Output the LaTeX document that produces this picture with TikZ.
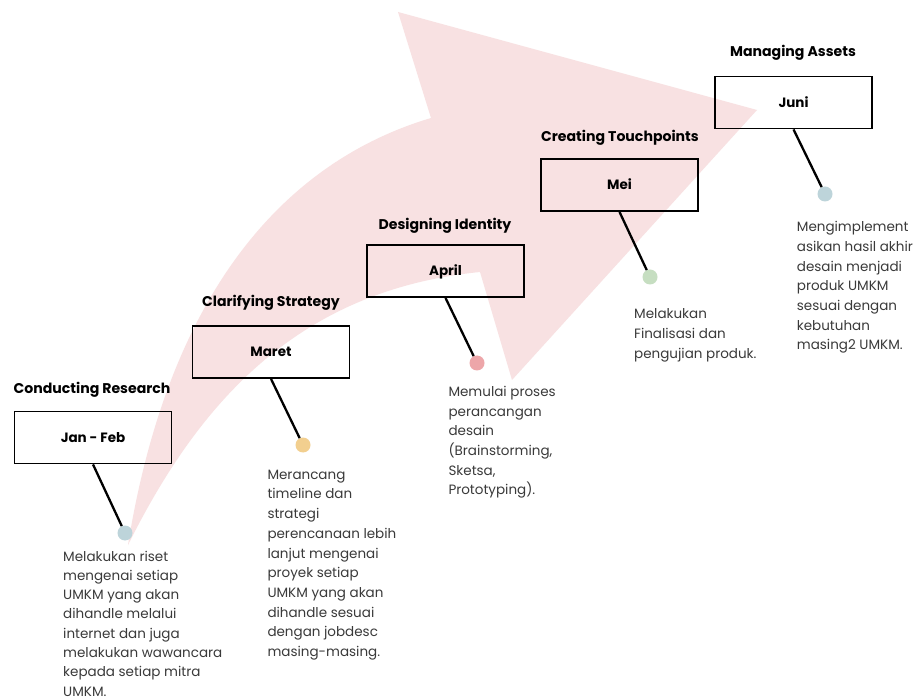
\documentclass[tikz,border=0pt]{standalone}
\usepackage{fontspec}
\setmainfont{Poppins}
\definecolor{arrowpink}{HTML}{F8E1E2}
\definecolor{bodygray}{HTML}{3A3A3A}
\definecolor{dotblue}{HTML}{BDD4DA}
\definecolor{dotorange}{HTML}{F2CF8F}
\definecolor{dotpink}{HTML}{EDA6A9}
\definecolor{dotgreen}{HTML}{C6DEC1}
\newcommand{\bodypar}[2][19.7]{\parbox[t]{200pt}{\fontsize{13.5}{#1}\selectfont\raggedright #2}}
\begin{document}
\begin{tikzpicture}[x=1pt,y=-1pt,
  stepbox/.style={draw=black, line width=1.8pt, minimum width=157pt, minimum height=52pt,
    inner sep=0pt, text height=9.6pt, text depth=0pt, font=\fontsize{13.5}{16}\selectfont\bfseries},
  titletext/.style={anchor=base, inner sep=0pt, font=\fontsize{14.1}{17}\selectfont\bfseries},
  dotnode/.style={circle, minimum size=15pt, inner sep=0pt},
  bodytext/.style={anchor=base west, inner sep=0pt, text=bodygray},
  link/.style={line width=2.3pt, black}]
\useasboundingbox (0,0) rectangle (913,700);
\fill[white] (0,0) rectangle (913,700);
% big curved arrow
\fill[arrowpink] (128,545) .. controls (200,400) and (300,290) .. (480,272)
  -- (512,380) -- (757,110) -- (398,12) -- (431,118)
  .. controls (290,160) and (170,285) .. cycle;
% boxes
\node[stepbox] (b1) at (93,437.5) {Jan - Feb};
\node[stepbox] (b2) at (271,352) {Maret};
\node[stepbox] (b3) at (445.5,271) {April};
\node[stepbox] (b4) at (619.5,185) {Mei};
\node[stepbox] (b5) at (793.5,102.5) {Juni};
% titles
\node[titletext] (t1) at (92,394) {Conducting Research};
\node[titletext] (t2) at (271,307) {Clarifying Strategy};
\node[titletext] (t3) at (445,230) {Designing Identity};
\node[titletext] (t4) at (620,142) {Creating Touchpoints};
\node[titletext] (t5) at (793,57) {Managing Assets};
% dots
\node[dotnode, fill=dotblue] (d1) at (125,533) {};
\node[dotnode, fill=dotorange] (d2) at (303,445) {};
\node[dotnode, fill=dotpink] (d3) at (477,363) {};
\node[dotnode, fill=dotgreen] (d4) at (650,277) {};
\node[dotnode, fill=dotblue] (d5) at (825,194) {};
% connectors
\draw[link] (b1.south) -- (d1);
\draw[link] (b2.south) -- (d2);
\draw[link] (b3.south) -- (d3);
\draw[link] (b4.south) -- (d4);
\draw[link] (b5.south) -- (d5);
% descriptions
\node[bodytext] (x1) at (63,561) {\bodypar[19.3]{Melakukan riset\\mengenai setiap\\UMKM yang akan\\dihandle melalui\\internet dan juga\\melakukan wawancara\\kepada setiap mitra\\UMKM.}};
\node[bodytext] (x2) at (267.3,479.3) {\bodypar{Merancang\\timeline dan\\strategi\\perencanaan lebih\\lanjut mengenai\\proyek setiap\\UMKM yang akan\\dihandle sesuai\\dengan jobdesc\\masing-masing.}};
\node[bodytext] (x3) at (448.3,396.5) {\bodypar{Memulai proses\\perancangan\\desain\\(Brainstorming,\\Sketsa,\\Prototyping).}};
\node[bodytext] (x4) at (634,319) {\bodypar{Melakukan\\Finalisasi dan\\pengujian produk.}};
\node[bodytext] (x5) at (796.7,231.7) {\bodypar{Mengimplement\\asikan hasil akhir\\desain menjadi\\produk UMKM\\sesuai dengan\\kebutuhan\\masing2 UMKM.}};
\end{tikzpicture}
\end{document}
